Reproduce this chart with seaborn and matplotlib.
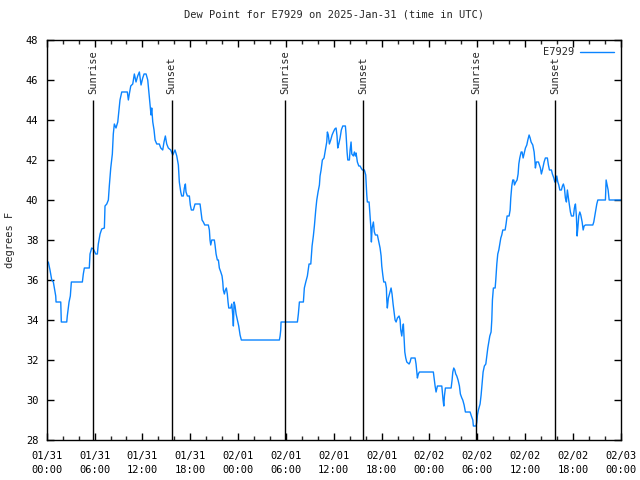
import pandas as pd
import matplotlib
matplotlib.use("Agg")
import matplotlib.pyplot as plt
import matplotlib.dates as mdates
import seaborn as sns

# hours after 2025-01-31 00:00 UTC
hours = [
    0.20, 0.41, 0.63, 0.83, 1.13, 1.17, 1.76, 1.83, 2.51, 2.58, 2.80, 2.96, 3.09, 4.47, 4.59, 4.72,
    5.34, 5.43, 5.64, 5.85, 6.15, 6.35, 6.47, 6.69, 6.90, 7.23, 7.31, 7.53, 7.73, 7.85, 8.03, 8.23,
    8.35, 8.48, 8.69, 8.91, 9.07, 9.19, 9.41, 10.11, 10.24, 10.36, 10.54, 10.79, 10.99, 11.20, 11.41,
    11.62, 11.83, 12.04, 12.21, 12.46, 12.67, 12.83, 12.96, 13.08, 13.17, 13.30, 13.46, 13.59, 13.80,
    14.12, 14.30, 14.55, 14.71, 14.88, 15.05, 15.25, 15.55, 15.81, 16.09, 16.31, 16.51, 16.63, 16.81,
    16.93, 17.13, 17.26, 17.39, 17.47, 17.64, 17.89, 18.01, 18.14, 18.39, 18.60, 19.23, 19.36, 19.48,
    19.64, 19.82, 20.27, 20.40, 20.48, 20.57, 20.70, 21.02, 21.11, 21.24, 21.40, 21.53, 21.65, 21.83,
    21.99, 22.08, 22.15, 22.28, 22.40, 22.53, 22.65, 22.74, 22.83, 23.08, 23.21, 23.33, 23.41, 23.50,
    23.62, 23.75, 23.91, 24.08, 24.25, 24.41, 29.18, 29.27, 29.35, 29.39, 31.44, 31.56, 31.69, 32.19,
    32.31, 32.49, 32.69, 32.90, 33.12, 33.28, 33.44, 33.57, 33.74, 33.87, 34.03, 34.20, 34.28, 34.41,
    34.57, 34.78, 34.95, 35.12, 35.20, 35.32, 35.45, 35.62, 35.79, 35.95, 36.13, 36.29, 36.41, 36.50,
    36.63, 36.79, 36.95, 37.13, 37.46, 37.54, 37.67, 37.76, 37.96, 38.05, 38.17, 38.26, 38.46, 38.59,
    38.71, 38.80, 38.96, 39.14, 39.30, 39.43, 39.59, 39.84, 40.01, 40.14, 40.21, 40.43, 40.55, 40.64,
    40.72, 40.81, 40.97, 41.09, 41.22, 41.47, 41.65, 41.81, 41.94, 42.02, 42.15, 42.27, 42.47, 42.60,
    42.65, 42.72, 42.85, 43.06, 43.19, 43.31, 43.44, 43.57, 43.69, 43.82, 43.98, 44.19, 44.32, 44.40,
    44.53, 44.61, 44.73, 44.82, 44.91, 45.03, 45.16, 45.45, 45.57, 45.70, 46.20, 46.32, 46.41, 46.49,
    46.61, 46.74, 48.49, 48.58, 48.71, 48.83, 49.00, 49.55, 49.62, 49.71, 49.80, 49.88, 50.00, 50.72,
    50.84, 50.93, 51.05, 51.18, 51.30, 51.43, 51.59, 51.76, 51.88, 52.06, 52.18, 52.35, 52.51, 53.10,
    53.26, 53.44, 53.51, 53.85, 53.94, 54.02, 54.14, 54.35, 54.48, 54.60, 54.73, 54.89, 55.07, 55.19,
    55.32, 55.44, 55.57, 55.73, 55.82, 55.90, 56.02, 56.24, 56.32, 56.45, 56.57, 56.70, 56.82, 56.95,
    57.07, 57.20, 57.49, 57.61, 57.74, 57.99, 58.12, 58.20, 58.33, 58.45, 58.58, 58.66, 58.83, 58.99,
    59.12, 59.21, 59.33, 59.50, 59.62, 59.75, 59.87, 60.04, 60.21, 60.34, 60.50, 60.63, 60.75, 60.96,
    61.13, 61.22, 61.29, 61.41, 61.67, 61.79, 61.92, 62.04, 62.17, 62.38, 62.54, 62.79, 62.92, 63.05,
    63.30, 63.42, 63.60, 63.72, 63.85, 63.97, 64.10, 64.22, 64.35, 64.55, 64.68, 64.80, 64.93, 65.05,
    65.18, 65.30, 65.43, 65.56, 65.68, 65.81, 66.06, 66.18, 66.31, 66.43, 66.52, 66.61, 66.73, 66.86,
    66.98, 67.15, 67.28, 67.40, 67.56, 68.49, 68.61, 68.74, 68.87, 68.99, 69.12, 70.07, 70.16, 70.29,
    70.41, 70.54, 72.00,
]
dew_point = [
    36.9, 36.5, 36.0, 35.9, 35.2, 34.9, 34.9, 33.9, 33.9, 34.2, 34.9, 35.2, 35.9, 35.9, 36.3, 36.6,
    36.6, 37.3, 37.6, 37.55, 37.3, 37.3, 37.8, 38.3, 38.55, 38.6, 39.7, 39.8, 40.0, 40.7, 41.6, 42.3,
    43.3, 43.8, 43.6, 43.9, 44.5, 45.0, 45.4, 45.4, 45.0, 45.3, 45.7, 45.8, 46.3, 45.9, 46.2,
    46.4, 45.75, 46.1, 46.3, 46.3, 46.0, 45.3, 44.7, 44.25, 44.6, 43.9, 43.5, 43.0, 42.8,
    42.8, 42.6, 42.5, 42.9, 43.2, 42.8, 42.6, 42.5, 42.25, 42.5, 42.2, 41.75, 40.9, 40.4,
    40.2, 40.2, 40.6, 40.8, 40.4, 40.2, 40.2, 39.75, 39.5, 39.5, 39.8, 39.8, 39.4, 39.0,
    38.9, 38.75, 38.75, 38.5, 38.0, 37.75, 38.0, 38.0, 37.75, 37.3, 37.0, 37.0, 36.6, 36.4,
    36.2, 35.9, 35.5, 35.3, 35.5, 35.6, 35.3, 34.9, 34.6, 34.6, 34.8, 34.25, 33.7, 34.9,
    34.7, 34.3, 34.0, 33.7, 33.25, 33.0, 33.0, 33.2, 33.5, 33.9, 33.9, 34.3, 34.9, 34.9,
    35.6, 35.9, 36.2, 36.8, 36.8, 37.7, 38.2, 38.7, 39.5, 40.0, 40.4, 40.75, 41.2, 41.5,
    42.0, 42.1, 42.5, 42.9, 43.4, 43.25, 42.8, 43.0, 43.25, 43.4, 43.55, 43.6, 43.2, 42.6,
    42.8, 43.1, 43.5, 43.7, 43.7, 43.3, 42.4, 42.0, 42.0, 42.5, 42.9, 42.3, 42.2, 42.4,
    42.2, 42.35, 41.9, 41.7, 41.7, 41.6, 41.5, 41.5, 41.25, 40.25, 39.9, 39.9, 39.25, 38.7,
    37.9, 38.6, 38.9, 38.4, 38.25, 38.25, 37.9, 37.6, 37.2, 36.7, 36.25, 35.9, 35.9, 35.6,
    35.0, 34.6, 35.1, 35.4, 35.6, 35.3, 34.8, 34.4, 34.0, 33.9, 34.1, 34.2, 34.0, 33.5,
    33.2, 33.5, 33.8, 33.1, 32.4, 32.1, 31.9, 31.8, 31.9, 32.1, 32.1, 31.8, 31.4, 31.1,
    31.3, 31.4, 31.4, 31.1, 30.7, 30.4, 30.7, 30.7, 30.4, 30.0, 29.7, 30.2, 30.6, 30.6,
    31.0, 31.4, 31.6, 31.5, 31.3, 31.2, 31.0, 30.7, 30.3, 30.1, 30.0, 29.75, 29.4, 29.4,
    29.2, 29.0, 28.7, 28.7, 28.9, 29.25, 29.5, 29.8, 30.25, 30.8, 31.4, 31.7, 31.8, 32.2,
    32.6, 32.9, 33.2, 33.4, 34.0, 35.0, 35.6, 35.6, 36.0, 36.8, 37.3, 37.5, 37.8, 38.1,
    38.25, 38.5, 38.5, 38.8, 39.2, 39.2, 39.5, 40.1, 40.7, 41.0, 41.0, 40.75, 40.9, 41.0,
    41.3, 41.8, 42.1, 42.4, 42.4, 42.1, 42.3, 42.6, 42.75, 43.0, 43.25, 43.1, 42.9, 42.75,
    42.4, 42.0, 41.6, 41.9, 41.9, 41.75, 41.6, 41.3, 41.5, 41.9, 42.1, 42.1, 41.75, 41.5,
    41.5, 41.3, 41.1, 40.9, 40.9, 41.2, 40.9, 40.75, 40.5, 40.5, 40.7, 40.8, 40.6, 40.1,
    39.9, 40.5, 40.1, 39.75, 39.4, 39.2, 39.2, 39.6, 39.8, 39.2, 38.2, 38.6, 39.2, 39.4,
    39.25, 38.9, 38.5, 38.7, 38.75, 38.75, 38.9, 39.2, 39.5, 39.8, 40.0, 40.0, 41.0, 40.75,
    40.5, 40.0, 40.0,
]
sun_labels = ["Sunrise", "Sunset", "Sunrise", "Sunset", "Sunrise", "Sunset"]
sun_hours = [5.83, 15.65, 29.87, 39.68, 53.85, 63.80]

start = pd.Timestamp("2025-01-31 00:00")
df = pd.DataFrame({
    "time": start + pd.to_timedelta(hours, unit="h"),
    "dew": dew_point,
})
sun_times = start + pd.to_timedelta(sun_hours, unit="h")

sns.set_style("ticks", {"xtick.direction": "in", "ytick.direction": "in"})
plt.rcParams["font.family"] = ["DejaVu Sans Mono"]
plt.rcParams["font.size"] = 7

fig = plt.figure(figsize=(6.4, 4.8), dpi=100)
ax = fig.add_axes([0.073, 0.0833, 0.897, 0.8334])

sns.lineplot(data=df, x="time", y="dew", ax=ax, color="#0a84ff", linewidth=1.0,
             label="E7929")

# sunrise / sunset markers
ax.vlines(sun_times, 28, 45, color="black", linewidth=1.0)
for t, lab in zip(sun_times, sun_labels):
    ax.text(t, 45.3, lab, rotation=90, ha="center", va="bottom", fontsize=7.5)

ax.set_xlim(start, start + pd.Timedelta(hours=72))
ax.set_ylim(28, 48)
ax.set_yticks(range(28, 49, 2))
ax.xaxis.set_major_locator(mdates.HourLocator(byhour=[0, 6, 12, 18]))
ax.xaxis.set_minor_locator(mdates.HourLocator(byhour=range(0, 24, 2)))
ax.xaxis.set_major_formatter(mdates.DateFormatter("%m/%d\n%H:%M"))
for lbl in ax.get_xticklabels():
    lbl.set_linespacing(1.5)

ax.tick_params(axis="both", which="major", direction="in", length=5, width=1,
               top=True, right=True, labelsize=7.5, colors="black")
ax.tick_params(axis="x", which="major", pad=8)
ax.tick_params(axis="y", which="major", pad=6)
ax.tick_params(axis="x", which="minor", direction="in", length=3, width=1, top=True)
for s in ax.spines.values():
    s.set_visible(True)
    s.set_color("black")
    s.set_linewidth(1.0)

ax.set_xlabel("")
ax.set_ylabel("degrees F", fontsize=7.5)
ax.yaxis.set_label_coords(-0.055, 0.5)
ax.set_title("Dew Point for E7929 on 2025-Jan-31 (time in UTC)", fontsize=7.5, pad=16)

ax.legend(loc="upper right", frameon=False, markerfirst=False, fontsize=7.5,
          handlelength=3.2, borderaxespad=0.3, handletextpad=0.6)

fig.savefig("out.png", dpi=100)
